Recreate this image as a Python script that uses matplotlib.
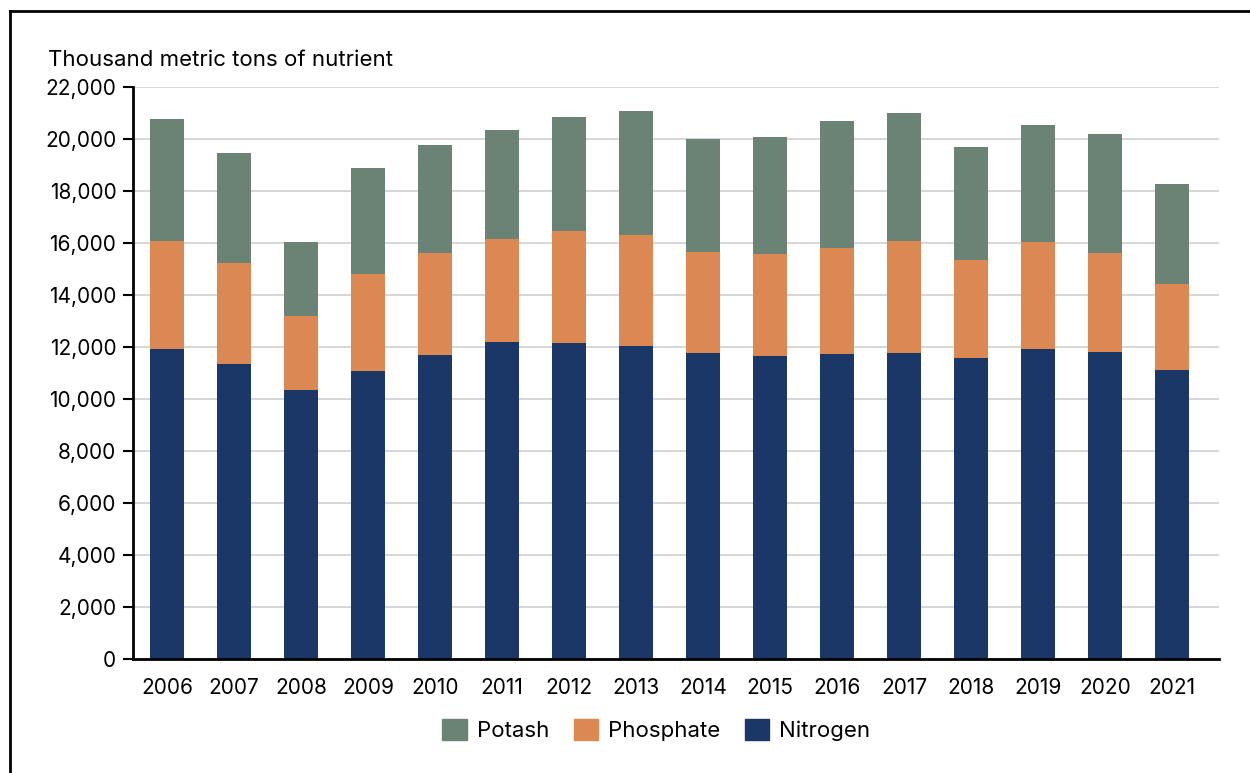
import matplotlib.pyplot as plt
import numpy as np
from matplotlib.lines import Line2D
from matplotlib.patches import Patch

plt.rcParams['font.family'] = ['Inter', 'DejaVu Sans']

# Data (thousand metric tons of nutrient)
years = [str(y) for y in range(2006, 2022)]
nitrogen_top = [11920, 11360, 10350, 11080, 11690, 12210, 12140, 12030,
                11770, 11650, 11720, 11770, 11560, 11910, 11820, 11120]
phosphate_top = [16080, 15220, 13200, 14810, 15600, 16170, 16460, 16300,
                 15670, 15580, 15820, 16080, 15350, 16030, 15620, 14420]
totals = [20760, 19450, 16030, 18870, 19780, 20350, 20860, 21090,
          19980, 20080, 20700, 20990, 19680, 20540, 20180, 18270]

nitrogen = np.array(nitrogen_top)
phosphate = np.array(phosphate_top) - nitrogen
potash = np.array(totals) - np.array(phosphate_top)

c_pot = '#6b8374'
c_pho = '#db8853'
c_nit = '#1b3768'

fig = plt.figure(figsize=(12.5, 7.73), dpi=100)
ax = fig.add_axes([0.1064, 0.1475, 0.8688, 0.74])

x = np.arange(len(years))
w = 0.5
ax.bar(x, nitrogen, w, color=c_nit, zorder=3)
ax.bar(x, phosphate, w, bottom=nitrogen, color=c_pho, zorder=3)
ax.bar(x, potash, w, bottom=nitrogen + phosphate, color=c_pot, zorder=3)

ax.set_ylim(0, 22000)
ax.set_xlim(-0.507, len(years) - 1 + 0.70)
ax.set_yticks(range(0, 22001, 2000))
ax.set_yticklabels([f'{v:,}' for v in range(0, 22001, 2000)], fontsize=15)
ax.set_xticks(x)
ax.set_xticklabels(years, fontsize=15)
ax.tick_params(axis='x', length=0, pad=14)
ax.tick_params(axis='y', length=7, width=1.5, pad=5)
ax.grid(axis='y', color='#d3d3d3', linewidth=1.3, zorder=0)

for s in ['top', 'right']:
    ax.spines[s].set_visible(False)
ax.spines['left'].set_linewidth(2)
ax.spines['bottom'].set_linewidth(2)
ax.spines['left'].set_zorder(4)
ax.spines['bottom'].set_zorder(4)

fig.text(0.0384, 0.922, 'Thousand metric tons of nutrient', fontsize=16,
         ha='left', va='center')

handles = [Patch(color=c_pot, label='Potash'),
           Patch(color=c_pho, label='Phosphate'),
           Patch(color=c_nit, label='Nitrogen')]
fig.legend(handles=handles, loc='center', bbox_to_anchor=(0.525, 0.056),
           ncol=3, frameon=False, fontsize=16, handlelength=1.1,
           handleheight=1.1, handletextpad=0.45, columnspacing=1.1)

# outer frame (left and top edges)
fx = 9.5 / 1250
fy = 1 - 10.5 / 773
fig.add_artist(Line2D([fx, fx], [0, fy], color='black', linewidth=2,
                      transform=fig.transFigure))
fig.add_artist(Line2D([fx, 1], [fy, fy], color='black', linewidth=2,
                      transform=fig.transFigure))

plt.savefig('out.png', dpi=100)
